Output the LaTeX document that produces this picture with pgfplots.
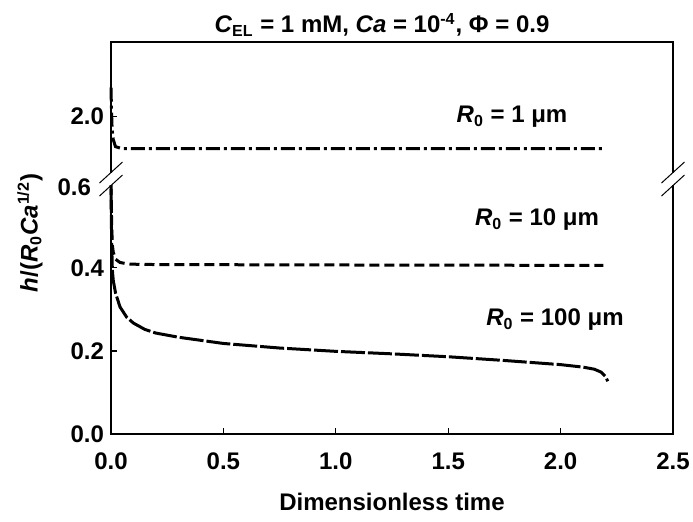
\documentclass[border=0pt]{standalone}
\usepackage{fontspec}
\setmainfont{Liberation Sans}
\usepackage{pgfplots}
\pgfplotsset{compat=1.18}

\pgfplotstableread{
t h
0.000 2.07
0.002 2.02
0.005 1.97
0.010 1.945
0.020 1.928
0.050 1.923
0.200 1.923
1.000 1.923
2.190 1.923
}\rone

\pgfplotstableread{
t h
0.000 0.600
0.003 0.500
0.006 0.455
0.010 0.438
0.020 0.421
0.040 0.413
0.080 0.409
0.200 0.408
1.000 0.407
2.190 0.406
}\rten

\pgfplotstableread{
t h
0.000 0.590
0.003 0.460
0.006 0.395
0.010 0.370
0.020 0.340
0.040 0.306
0.070 0.281
0.100 0.267
0.150 0.252
0.200 0.243
0.300 0.233
0.500 0.218
0.750 0.207
1.000 0.199
1.250 0.193
1.500 0.186
1.750 0.177
1.900 0.171
2.000 0.167
2.100 0.161
2.150 0.156
2.180 0.149
2.200 0.138
2.210 0.127
}\rhund

\newcommand{\lbl}{\fontsize{12}{14}\selectfont\bfseries}

\begin{document}
\begin{tikzpicture}
\begin{axis}[
  at={(0,0)}, anchor=south west,
  width=281pt, height=196pt, scale only axis,
  xmin=0, xmax=2.5, ymin=0, ymax=0.944,
  axis line style={line width=1pt},
  xtick={0,0.5,1.0,1.5,2.0,2.5},
  xticklabels={0.0,0.5,1.0,1.5,2.0,2.5},
  ytick={0,0.2,0.4,0.764},
  yticklabels={0.0,0.2,0.4,2.0},
  tick align=inside, tick pos=left,
  major tick length=3pt,
  tick style={line width=0.6pt, black},
  ticklabel style={font=\lbl},
  xticklabel style={yshift=-6pt},
  clip=false,
  y filter/.expression={y>1 ? y-1.236 : y},
]
\addplot[black, line width=1.5pt, dash pattern=on 7pt off 2pt on 1.5pt off 2pt] table[x=t,y=h] {\rone};
\addplot[black, line width=1.5pt, dash pattern=on 5pt off 2.5pt] table[x=t,y=h] {\rten};
\addplot[black, line width=1.5pt, dash pattern=on 12pt off 1.5pt] table[x=t,y=h] {\rhund};
\coordinate (bl) at (axis cs:0,0.614);
\coordinate (br) at (axis cs:2.5,0.614);
\end{axis}
\foreach \p in {bl,br} {
  \fill[white] ([xshift=-1.5pt,yshift=-3.1pt]\p) rectangle ([xshift=1.5pt,yshift=3.1pt]\p);
  \draw[line width=0.5pt] ([xshift=-5.75pt,yshift=-2pt]\p) -- ([xshift=5.75pt,yshift=8.5pt]\p);
  \draw[line width=0.5pt] ([xshift=-5.75pt,yshift=-8.5pt]\p) -- ([xshift=5.75pt,yshift=2pt]\p);
}
\node[font=\lbl, anchor=east] at (-6.5pt,123.5pt) {0.6};
\node[font=\lbl] at (200.5pt,158.5pt) {\textit{R}\textsubscript{0} = 1 μm};
\node[font=\lbl] at (213pt,107pt) {\textit{R}\textsubscript{0} = 10 μm};
\node[font=\lbl] at (222pt,57pt) {\textit{R}\textsubscript{0} = 100 μm};
\node[font=\lbl] at (135.5pt,204.5pt) {\textit{C}\textsubscript{EL} = 1 mM, \textit{Ca} = 10\textsuperscript{-4}, Φ = 0.9};
\node[font=\lbl] at (140.5pt,-34pt) {Dimensionless time};
\node[font=\lbl, rotate=90] at (-40.5pt,100.5pt) {\textit{h}/(\textit{R}\textsubscript{0}\textit{Ca}\textsuperscript{1/2})};
\pgfresetboundingbox
\path (-55.5pt,-44pt) rectangle (291pt,217pt);
\end{tikzpicture}
\end{document}
